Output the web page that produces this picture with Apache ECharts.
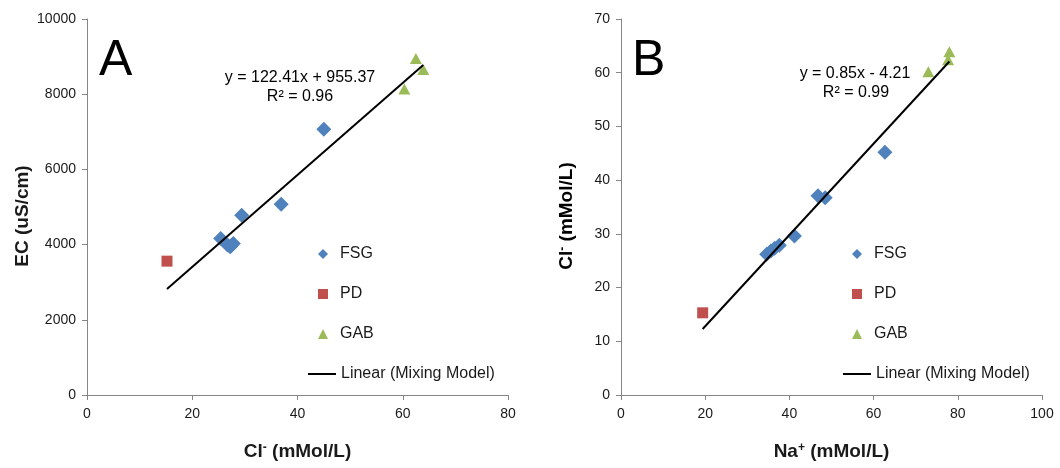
<!DOCTYPE html>
<html>
<head>
<meta charset="utf-8">
<script src="https://cdn.jsdelivr.net/npm/echarts@6/dist/echarts.min.js"></script>
<style>
  html, body { margin: 0; padding: 0; background: #ffffff; }
  #chart { width: 1060px; height: 468px; }
</style>
</head>
<body>
<div id="chart"></div>
<script>
// ---------- data ----------
// Panel A: Cl- (mMol/L) vs EC (uS/cm)
const panelA_FSG = [[45.0, 7070], [36.9, 5070], [29.4, 4780], [25.4, 4160], [26.7, 3990], [27.2, 3940], [27.8, 4030], [27.4, 3970]];
const panelA_PD  = [[15.2, 3560]];
const panelA_GAB = [[62.5, 8950], [63.9, 8660], [60.3, 8140]];
const fitA = [122.41, 955.37, 0.96]; // slope, intercept, R²

// Panel B: Na+ (mMol/L) vs Cl- (mMol/L)
const panelB_FSG = [[62.7, 45.2], [46.8, 37.1], [48.5, 36.7], [41.2, 29.6], [37.6, 27.9], [36.5, 27.3], [35.6, 26.8], [34.6, 26.2]];
const panelB_PD  = [[19.4, 15.3]];
const panelB_GAB = [[73.0, 60.2], [78.0, 63.9], [77.7, 62.4]];
const fitB = [0.85, -4.21, 0.99];

const xTicksA = [0, 20, 40, 60, 80];
const yTicksA = [0, 2000, 4000, 6000, 8000, 10000];
const xTicksB = [0, 20, 40, 60, 80, 100];
const yTicksB = [0, 10, 20, 30, 40, 50, 60, 70];

const markerNames = ['FSG', 'PD', 'GAB'];
const lineName = 'Linear (Mixing Model)';

// ---------- helpers ----------
function fitLine(fit, groups) {
  const xs = [].concat(...groups.map(g => g.map(p => p[0])));
  const lo = Math.min(...xs), hi = Math.max(...xs);
  return [[lo, fit[0] * lo + fit[1]], [hi, fit[0] * hi + fit[1]]];
}
function eqText(fit) {
  const s = fit[1] < 0 ? ' - ' : ' + ';
  return 'y = ' + fit[0] + 'x' + s + Math.abs(fit[1]).toFixed(2);
}

const FONT = '"Liberation Sans", Arial, sans-serif';
const AXIS_COLOR = '#868686';
const TEXT_COLOR = '#1a1a1a';
const COLORS = { FSG: '#4F81BD', PD: '#C0504D', GAB: '#9BBB59' };
const ICONS = { FSG: 'diamond', PD: 'rect', GAB: 'triangle' };

const RICH = {
  b: { fontFamily: FONT, fontSize: 19, fontWeight: 'bold', color: TEXT_COLOR },
  sup: { fontFamily: FONT, fontSize: 12, fontWeight: 'bold', color: TEXT_COLOR, verticalAlign: 'top', padding: [0, 0, 8, 0] }
};

function axisCommon(ticks, gridIndex) {
  return {
    type: 'value', gridIndex: gridIndex,
    min: ticks[0], max: ticks[ticks.length - 1], interval: ticks[1] - ticks[0],
    axisLine: { show: true, onZero: false, lineStyle: { color: AXIS_COLOR, width: 1 } },
    axisTick: { show: true, length: 5, lineStyle: { color: AXIS_COLOR } },
    splitLine: { show: false },
    axisLabel: { color: TEXT_COLOR, fontFamily: FONT, fontSize: 14, margin: 12, formatter: v => String(v) },
    nameTextStyle: { color: TEXT_COLOR, fontFamily: FONT, fontSize: 19, fontWeight: 'bold', rich: RICH }
  };
}

function scatterSeries(name, data, idx, size) {
  return {
    name: name, type: 'scatter', xAxisIndex: idx, yAxisIndex: idx,
    data: data, symbol: ICONS[name], symbolSize: size,
    itemStyle: { color: COLORS[name], opacity: 1 },
    emphasis: { disabled: true }, z: 3
  };
}
function lineSeries(data, idx) {
  return {
    name: lineName, type: 'line', xAxisIndex: idx, yAxisIndex: idx,
    data: data, symbol: 'none', showSymbol: false,
    lineStyle: { color: '#000000', width: 2 }, itemStyle: { color: '#000000' },
    emphasis: { disabled: true }, z: 4
  };
}
function markerLegend(left) {
  return {
    orient: 'vertical', left: left, top: 241, padding: 5,
    itemWidth: 10, itemHeight: 10, itemGap: 24,
    selectedMode: false, symbolKeepAspect: true,
    textStyle: { color: TEXT_COLOR, fontFamily: FONT, fontSize: 16, lineHeight: 16, padding: [0, 0, 0, 7] },
    data: markerNames.map(n => ({ name: n, icon: ICONS[n] }))
  };
}
function lineLegend(left) {
  return {
    orient: 'vertical', left: left, top: 361, padding: 5,
    itemWidth: 28, itemHeight: 2,
    selectedMode: false,
    textStyle: { color: TEXT_COLOR, fontFamily: FONT, fontSize: 16, lineHeight: 16 },
    data: [{ name: lineName, icon: 'rect', itemStyle: { color: '#000000' } }]
  };
}

const chart = echarts.init(document.getElementById('chart'), null, { renderer: 'canvas' });

const option = {
  animation: false,
  backgroundColor: '#ffffff',
  grid: [
    { left: 87, top: 19, width: 421, height: 376 },
    { left: 621, top: 19, width: 421, height: 376 }
  ],
  xAxis: [
    Object.assign(axisCommon(xTicksA, 0), { name: '{b|Cl}{sup|-}{b| (mMol/L)}', nameLocation: 'middle', nameGap: 47 }),
    Object.assign(axisCommon(xTicksB, 1), { name: '{b|Na}{sup|+}{b| (mMol/L)}', nameLocation: 'middle', nameGap: 47 })
  ],
  yAxis: [
    Object.assign(axisCommon(yTicksA, 0), { axisLabel: Object.assign(axisCommon(yTicksA, 0).axisLabel, { margin: 11 }) }),
    Object.assign(axisCommon(yTicksB, 1), { axisLabel: Object.assign(axisCommon(yTicksB, 1).axisLabel, { margin: 11 }) })
  ],
  legend: [markerLegend(313), lineLegend(303), markerLegend(847), lineLegend(838)],
  series: [
    lineSeries(fitLine(fitA, [panelA_FSG, panelA_PD, panelA_GAB]), 0),
    scatterSeries('FSG', panelA_FSG, 0, 15),
    scatterSeries('PD', panelA_PD, 0, 11),
    scatterSeries('GAB', panelA_GAB, 0, [12, 11]),
    lineSeries(fitLine(fitB, [panelB_FSG, panelB_PD, panelB_GAB]), 1),
    scatterSeries('FSG', panelB_FSG, 1, 15),
    scatterSeries('PD', panelB_PD, 1, 11),
    scatterSeries('GAB', panelB_GAB, 1, [12, 11])
  ],
  graphic: [
    { type: 'text', left: 99, top: 36, style: { text: 'A', font: '50px ' + FONT, fill: '#000' } },
    { type: 'text', left: 632, top: 36, style: { text: 'B', font: '50px ' + FONT, fill: '#000' } },
    { type: 'text', x: 300, y: 78, style: { text: eqText(fitA), font: '16px ' + FONT, fill: '#000', align: 'center', verticalAlign: 'middle' } },
    { type: 'text', x: 300, y: 97, style: { text: 'R² = ' + fitA[2].toFixed(2), font: '16px ' + FONT, fill: '#000', align: 'center', verticalAlign: 'middle' } },
    { type: 'text', x: 855, y: 74, style: { text: eqText(fitB), font: '16px ' + FONT, fill: '#000', align: 'center', verticalAlign: 'middle' } },
    { type: 'text', x: 856, y: 93, style: { text: 'R² = ' + fitB[2].toFixed(2), font: '16px ' + FONT, fill: '#000', align: 'center', verticalAlign: 'middle' } },
    { type: 'text', x: 23, y: 216, rotation: Math.PI / 2,
      style: { text: 'EC (uS/cm)', font: 'bold 19px ' + FONT, fill: TEXT_COLOR, align: 'center', verticalAlign: 'middle' } },
    { type: 'text', x: 567, y: 216, rotation: Math.PI / 2,
      style: { text: '{b|Cl}{sup|-}{b| (mMol/L)}', rich: RICH, align: 'center', verticalAlign: 'middle' } }
  ]
};
chart.setOption(option);
</script>
</body>
</html>
